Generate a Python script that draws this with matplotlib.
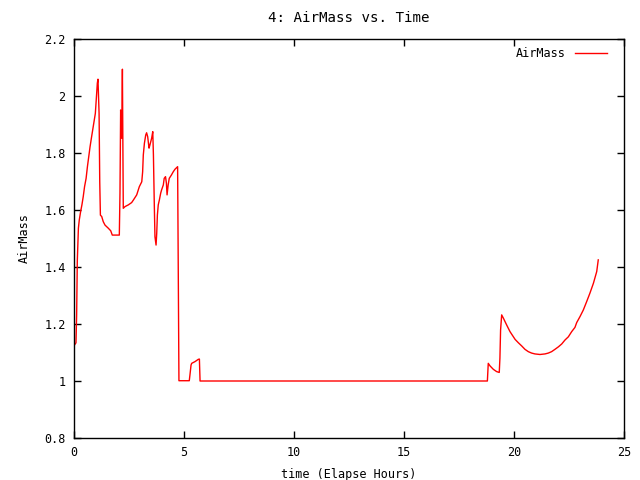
import matplotlib
matplotlib.use("Agg")
import matplotlib.pyplot as plt

# elapsed hours vs airmass
hours = [
    0.0, 0.09, 0.12, 0.15, 0.20, 0.24, 0.30, 0.36, 0.42, 0.48, 0.55, 0.61, 0.67,
    0.73, 0.79, 0.85, 0.91, 0.97, 1.03, 1.06, 1.09, 1.14, 1.17, 1.20, 1.26, 1.33,
    1.41, 1.56, 1.67, 1.74, 2.06, 2.09, 2.12, 2.17, 2.20, 2.24, 2.32, 2.47, 2.62,
    2.70, 2.85, 2.97, 3.08, 3.12, 3.15, 3.20, 3.26, 3.30, 3.35, 3.41, 3.45, 3.53,
    3.58, 3.61, 3.65, 3.68, 3.73, 3.76, 3.79, 3.83, 3.88, 3.94, 3.98, 4.06, 4.10,
    4.16, 4.20, 4.23, 4.28, 4.33, 4.43, 4.51, 4.59, 4.71, 4.74, 4.77, 5.24, 5.27,
    5.32, 5.35, 5.50, 5.65, 5.70, 5.73, 18.79, 18.83, 18.91, 19.06, 19.21, 19.33,
    19.36, 19.39, 19.44, 19.52, 19.67, 19.82, 20.05, 20.20, 20.35, 20.50, 20.65,
    20.80, 20.95, 21.18, 21.41, 21.56, 21.71, 21.86, 22.02, 22.17, 22.32, 22.47,
    22.62, 22.77, 22.85, 23.00, 23.15, 23.30, 23.45, 23.61, 23.76, 23.83,
]
airmass = [
    1.124, 1.134, 1.232, 1.421, 1.536, 1.565, 1.594, 1.618, 1.647, 1.682, 1.711,
    1.752, 1.787, 1.822, 1.852, 1.881, 1.910, 1.939, 2.009, 2.045, 2.059, 1.939,
    1.699, 1.582, 1.577, 1.559, 1.547, 1.536, 1.527, 1.512, 1.512, 1.659, 1.951,
    1.852, 2.094, 1.606, 1.612, 1.618, 1.626, 1.635, 1.653, 1.682, 1.699, 1.734,
    1.793, 1.834, 1.863, 1.871, 1.857, 1.817, 1.828, 1.852, 1.875, 1.793, 1.618,
    1.506, 1.477, 1.518, 1.582, 1.618, 1.635, 1.659, 1.670, 1.688, 1.711, 1.717,
    1.694, 1.653, 1.688, 1.711, 1.723, 1.734, 1.743, 1.752, 1.378, 1.001, 1.001,
    1.021, 1.056, 1.062, 1.068, 1.076, 1.077, 1.0, 1.0, 1.062, 1.053, 1.041,
    1.033, 1.030, 1.080, 1.179, 1.232, 1.220, 1.196, 1.173, 1.146, 1.134, 1.123,
    1.111, 1.103, 1.098, 1.095, 1.093, 1.095, 1.098, 1.103, 1.111, 1.120, 1.130,
    1.144, 1.155, 1.173, 1.188, 1.205, 1.226, 1.249, 1.278, 1.308, 1.343, 1.384,
    1.425,
]
x_ticks = [0, 5, 10, 15, 20, 25]
y_ticks = [0.8, 1.0, 1.2, 1.4, 1.6, 1.8, 2.0, 2.2]
y_labels = ["0.8", "1", "1.2", "1.4", "1.6", "1.8", "2", "2.2"]

plt.rcParams["font.family"] = "DejaVu Sans Mono"
plt.rcParams["font.size"] = 8.5

fig = plt.figure(figsize=(6.4, 4.8), dpi=100)
ax = fig.add_axes([74 / 640, 42 / 480, 550 / 640, 399 / 480])
ax.plot(hours, airmass, color="#ff0000", linewidth=1.0, label="AirMass")

ax.set_xlim(0, 25)
ax.set_ylim(0.8, 2.2)
ax.set_xticks(x_ticks)
ax.set_yticks(y_ticks)
ax.set_yticklabels(y_labels)
ax.tick_params(direction="in", length=5, width=1, top=True, right=True, pad=6)
for s in ax.spines.values():
    s.set_linewidth(1)

ax.set_title("4: AirMass vs. Time", pad=12)
ax.set_xlabel("time (Elapse Hours)", labelpad=6)
ax.set_ylabel("AirMass", labelpad=10)
ax.legend(loc="upper right", bbox_to_anchor=(1 - 9 / 550, 1), frameon=False,
          markerfirst=False, handlelength=2.7, borderaxespad=0.3)

fig.savefig("out.png", dpi=100)
